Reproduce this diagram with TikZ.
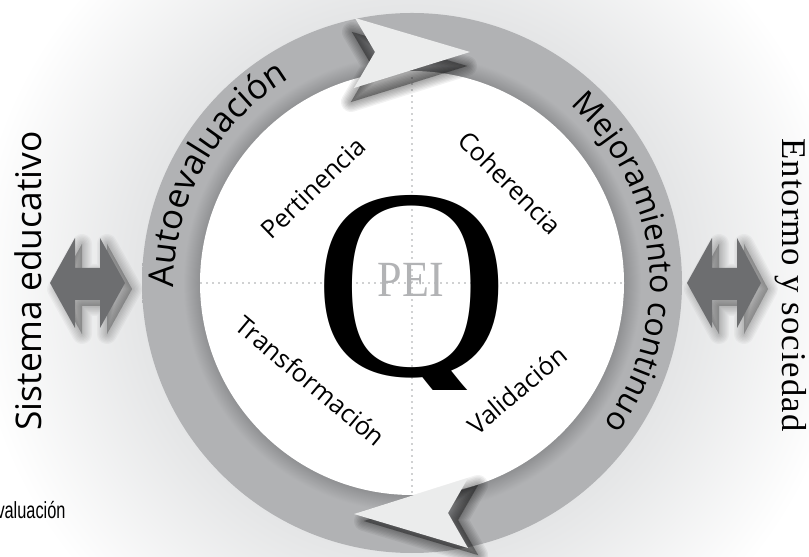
\documentclass[tikz,border=0pt]{standalone}
\usepackage{fontspec}
\usepackage{graphicx}
\setmainfont{Liberation Serif}
\setsansfont{Open Sans}
\newfontfamily\condfont{Liberation Sans}
\usetikzlibrary{decorations.text}

\definecolor{ringgray}{RGB}{177,178,180}
\definecolor{ringdark}{RGB}{143,144,146}
\definecolor{arrowlight}{RGB}{235,236,236}
\definecolor{dblgray}{RGB}{109,110,112}
\definecolor{glowgray}{RGB}{228,229,230}
\definecolor{dotgray}{RGB}{160,162,164}
\definecolor{peigray}{RGB}{178,179,181}

\pgfdeclareradialshading{glowshade}{\pgfpoint{0bp}{0bp}}{color(0bp)=(glowgray); color(15.3bp)=(glowgray); color(25bp)=(white); color(50bp)=(white)}
\pgfdeclareradialshading{ringshade}{\pgfpoint{0bp}{0bp}}{color(0bp)=(ringdark); color(19.6bp)=(ringdark); color(21.2bp)=(ringgray); color(50bp)=(ringgray)}

\tikzset{every picture/.style={line width=0.75pt}}
\tikzset{
  softshadow/.style={fill=black, draw=black, fill opacity=#1, draw opacity=#1, line join=round},
  dblarrow/.style={fill=dblgray},
  headarrow/.style={fill=arrowlight},
  quarterline/.style={draw=dotgray, line width=1.2pt, line cap=round, dash pattern=on 0pt off 4.5pt},
  quadlabel/.style={font=\sffamily\fontsize{19}{19}\selectfont, inner sep=0.75pt},
  sidelabel/.style={font=\sffamily\fontsize{26.5}{26.5}\selectfont, inner sep=0.75pt}
}

% blurred drop shadow: #1 opacity, #2 shift, #3 path
\newcommand\castshadow[3]{%
  \foreach \w in {1,3,...,15}{\path[softshadow=#1, line width=\w pt, #2] #3;}}

\begin{document}
\begin{tikzpicture}[x=0.75pt,y=0.75pt]
\useasboundingbox (0,0) rectangle (809,556);
\coordinate (c) at (412,273);

%Shape: Background glow
\shade[shading=glowshade] (c) circle (440);

%Shape: Double arrow left
\castshadow{0.03}{shift={(7,-6)}}{(50,273) -- (75,318) -- (75,288) -- (100,288) -- (100,318) -- (125,273) -- (100,228) -- (100,256) -- (75,256) -- (75,228) -- cycle}
\fill[dblarrow] (50,273) -- (75,318) -- (75,288) -- (100,288) -- (100,318) -- (125,273) -- (100,228) -- (100,256) -- (75,256) -- (75,228) -- cycle;
%Shape: Double arrow right
\castshadow{0.03}{shift={(7,-6)}}{(687,273) -- (712,318) -- (712,288) -- (737,288) -- (737,318) -- (761,273) -- (737,228) -- (737,256) -- (712,256) -- (712,228) -- cycle}
\fill[dblarrow] (687,273) -- (712,318) -- (712,288) -- (737,288) -- (737,318) -- (761,273) -- (737,228) -- (737,256) -- (712,256) -- (712,228) -- cycle;

%Shape: Ring
\shade[shading=ringshade] (c) circle (270);
\fill[white] (c) circle (212);

%Straight Lines: quarters
\draw[quarterline] (201,273) -- (623,273);
\draw[quarterline] (412,64) -- (412,484);

%Shape: Arrowhead top
\castshadow{0.05}{shift={(-3,-14)}}{(355,538) -- (375,504) -- (354,468) -- (470,504) -- cycle}
\fill[headarrow] (355,538) -- (375,504) -- (354,468) -- (470,504) -- cycle;
%Shape: Arrowhead bottom
\castshadow{0.05}{shift={(10,-7)}}{(354,42) -- (468,78) -- (448,43) -- (468,8) -- cycle}
\fill[headarrow] (354,42) -- (468,78) -- (448,43) -- (468,8) -- cycle;

% Ring texts
\path[decorate, decoration={text along path, text align=center,
  text={|\sffamily\fontsize{26}{26}\selectfont|Autoevaluación}}]
  (c) ++(195:238) arc[start angle=195, end angle=107, radius=238];
\path[decorate, decoration={text along path, text align=center,
  text={|\sffamily\fontsize{24}{24}\selectfont|Mejoramiento continuo}}]
  (c) ++(60:238) arc[start angle=60, end angle=-48, radius=238];

% Text Node
\draw (313,368) node (pert) [quadlabel, rotate=44] {Pertinencia};
% Text Node
\draw (510,373) node (cohe) [quadlabel, rotate=-45] {Coherencia};
% Text Node
\draw (311,175) node (trans) [quadlabel, rotate=-40] {Transformación};
% Text Node
\draw (517,166) node (vali) [quadlabel, rotate=40] {Validación};

% Text Node (tail of the Q kept short)
\begin{scope}
\clip (300,166) rectangle (530,400);
\draw (412,180) node (q) [anchor=base, inner sep=0pt, font=\fontsize{204}{204}\selectfont] {Q};
\end{scope}
% Text Node
\draw (411,259) node (pei) [anchor=base, inner sep=0pt, text=peigray, font=\fontsize{38}{38}\selectfont] {\scalebox{0.87}[1]{PEI}};

% Text Node
\draw (28,275) node (sis) [sidelabel, rotate=90] {Sistema educativo};
% Text Node
\draw (791,271) node (ent) [inner sep=0.75pt, rotate=-90, font=\fontsize{26}{26}\selectfont\addfontfeature{LetterSpace=3}] {Entormo y sociedad};
% Text Node
\draw (-4,37) node (frag) [anchor=base west, inner sep=0pt, font=\condfont\fontsize{17.5}{17.5}\selectfont] {\scalebox{0.7}[1]{valuación}};

\end{tikzpicture}
\end{document}
